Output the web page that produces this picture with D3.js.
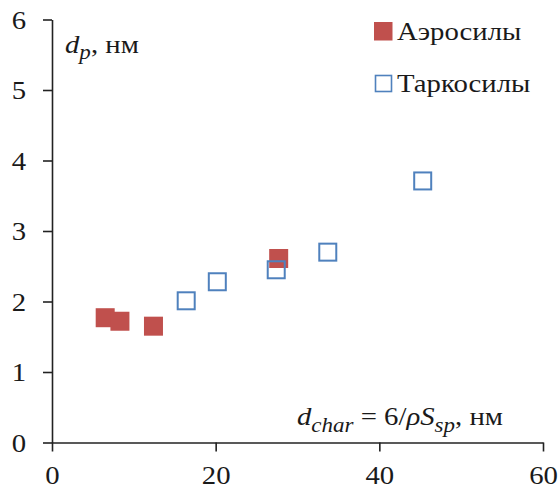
<!DOCTYPE html>
<html><head><meta charset="utf-8">
<script src="https://cdn.jsdelivr.net/npm/d3@7"></script>
<style>body{margin:0;background:#fff}svg{display:block}</style>
</head><body>
<script>
const aeroX = [6.5, 8.3, 12.4, 27.7];
const aeroY = [1.77, 1.72, 1.65, 2.61];
const tarkX = [16.4, 20.2, 27.4, 33.7, 45.3];
const tarkY = [2.01, 2.28, 2.45, 2.70, 3.71];
const xTicks = [0, 20, 40, 60];
const yTicks = [0, 1, 2, 3, 4, 5, 6];
const seriesNames = ["Аэросилы", "Таркосилы"];

const W = 559, H = 490;
const FONT = "Liberation Serif";
const FS = 25, SUB = 20, K = 1.15, INK = "#1a1a1a";
const svg = d3.select("body").append("svg").attr("width", W).attr("height", H);
const x = d3.scaleLinear().domain([0, 60]).range([52, 543]);
const y = d3.scaleLinear().domain([0, 6]).range([442.5, 19.5]);

const xAxis = svg.append("g").attr("transform", `translate(0,${y(0)})`)
  .call(d3.axisBottom(x).tickValues(xTicks).tickFormat(d3.format("d")).tickSize(9).tickSizeOuter(0));
const yAxis = svg.append("g").attr("transform", `translate(${x(0)},0)`)
  .call(d3.axisLeft(y).tickValues(yTicks).tickFormat(d3.format("d")).tickSize(9).tickSizeOuter(0));
[xAxis, yAxis].forEach(g => {
  g.attr("font-family", FONT).attr("font-size", FS);
  g.select(".domain").attr("stroke", "#222").attr("stroke-width", 1.6);
  g.selectAll(".tick line").attr("stroke", "#222").attr("stroke-width", 1.6);
  g.selectAll(".tick text").attr("fill", INK).attr("x", 0).attr("y", 0).attr("dy", null);
});
xAxis.selectAll(".tick text").attr("transform", `translate(0,41.5) scale(${K},1)`);
yAxis.selectAll(".tick text").attr("dy", "0.35em").attr("transform", `translate(-26,0) scale(${K},1)`);

const s = 19;
svg.append("g").selectAll("rect").data(aeroX.map((d, i) => [d, aeroY[i]])).join("rect")
  .attr("x", d => x(d[0]) - s / 2).attr("y", d => y(d[1]) - s / 2)
  .attr("width", s).attr("height", s).attr("fill", "#c0504d");
const sb = 17;
svg.append("g").selectAll("rect").data(tarkX.map((d, i) => [d, tarkY[i]])).join("rect")
  .attr("x", d => x(d[0]) - sb / 2).attr("y", d => y(d[1]) - sb / 2)
  .attr("width", sb).attr("height", sb).attr("fill", "none")
  .attr("stroke", "#4f81bd").attr("stroke-width", 2);

function label(px, py, anchor) {
  return svg.append("text").attr("transform", `translate(${px},${py}) scale(${K},1)`)
    .attr("text-anchor", anchor).attr("font-family", FONT).attr("font-size", FS).attr("fill", INK);
}

// legend
svg.append("rect").attr("x", 374).attr("y", 22).attr("width", 18.5).attr("height", 18.5).attr("fill", "#c0504d");
label(397, 40, "start").text(seriesNames[0]);
svg.append("rect").attr("x", 375.5).attr("y", 75.5).attr("width", 16).attr("height", 16)
  .attr("fill", "none").attr("stroke", "#4f81bd").attr("stroke-width", 1.6);
label(397, 92, "start").text(seriesNames[1]);

// y label
const yl = label(65, 53, "start");
yl.append("tspan").attr("font-style", "italic").text("d");
yl.append("tspan").attr("font-style", "italic").attr("font-size", SUB).attr("dy", 6).text("p");
yl.append("tspan").attr("dy", -6).text(", нм");

// x label
const xl = label(503, 425, "end");
xl.append("tspan").attr("font-style", "italic").text("d");
xl.append("tspan").attr("font-style", "italic").attr("font-size", SUB).attr("dy", 7).text("char");
xl.append("tspan").attr("dy", -7).text(" = 6/");
xl.append("tspan").attr("font-style", "italic").text("ρS");
xl.append("tspan").attr("font-style", "italic").attr("font-size", SUB).attr("dy", 7).text("sp");
xl.append("tspan").attr("dy", -7).text(", нм");
</script>
</body></html>
